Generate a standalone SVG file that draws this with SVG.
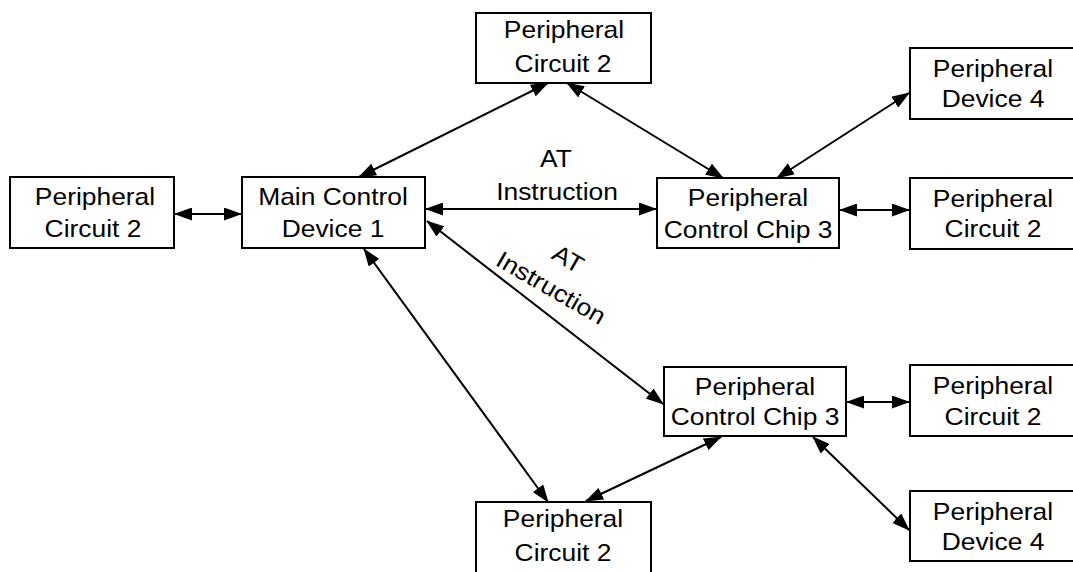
<svg xmlns="http://www.w3.org/2000/svg" width="1073" height="572" viewBox="0 0 1073 572">
<style>
.box{fill:#fff;stroke:#000;stroke-width:2}
.t{font-family:"Liberation Sans",Arial,sans-serif;font-size:24px;fill:#000;text-anchor:middle}
.c{stroke:#000;stroke-width:2;fill:none;marker-start:url(#ah);marker-end:url(#ah)}
</style>
<defs>
<marker id="ah" markerUnits="userSpaceOnUse" markerWidth="18" markerHeight="13" refX="17" refY="6.5" orient="auto-start-reverse" viewBox="0 0 18 13">
<path d="M0,0 L18,6.5 L0,13 z" fill="#000"/>
</marker>
</defs>
<rect width="1073" height="572" fill="#fff"/>
<g id="connectors">
<line class="c" x1="175" y1="214" x2="241" y2="214"/>
<line class="c" x1="426" y1="209" x2="656" y2="209"/>
<line class="c" x1="359" y1="177" x2="548" y2="83"/>
<line class="c" x1="567" y1="83" x2="723" y2="178"/>
<line class="c" x1="777" y1="178" x2="909" y2="93"/>
<line class="c" x1="840" y1="210" x2="909" y2="210"/>
<line class="c" x1="427" y1="221" x2="663" y2="404"/>
<line class="c" x1="364" y1="249" x2="548" y2="502"/>
<line class="c" x1="721" y1="437" x2="586" y2="501"/>
<line class="c" x1="847" y1="402" x2="909" y2="402"/>
<line class="c" x1="813" y1="437" x2="909" y2="530"/>
</g>
<g id="label-at-1">
<text class="t" transform="translate(556,167) scale(1.1,1)">AT</text>
<text class="t" transform="translate(557,200) scale(1.1,1)">Instruction</text>
</g>
<g id="label-at-2">
<text class="t" transform="translate(564,266) rotate(30) scale(1.1,1)">AT</text>
<text class="t" transform="translate(547,295) rotate(30) scale(1.1,1)">Instruction</text>
</g>
<g id="n-left-circuit">
<rect class="box" x="10" y="177" width="164" height="71"/>
<text class="t" transform="translate(95,205) scale(1.1,1)">Peripheral</text>
<text class="t" transform="translate(93,237) scale(1.1,1)">Circuit 2</text>
</g>
<g id="n-main">
<rect class="box" x="242" y="177" width="183" height="71"/>
<text class="t" transform="translate(333,205) scale(1.1,1)">Main Control</text>
<text class="t" transform="translate(333,237) scale(1.1,1)">Device 1</text>
</g>
<g id="n-top-circuit">
<rect class="box" x="476" y="13" width="175" height="70"/>
<text class="t" transform="translate(564,38) scale(1.1,1)">Peripheral</text>
<text class="t" transform="translate(563,72) scale(1.1,1)">Circuit 2</text>
</g>
<g id="n-chip-upper">
<rect class="box" x="657" y="178" width="182" height="70"/>
<text class="t" transform="translate(748,206) scale(1.1,1)">Peripheral</text>
<text class="t" transform="translate(748,238) scale(1.1,1)">Control Chip 3</text>
</g>
<g id="n-device-upper">
<rect class="box" x="910" y="48" width="170" height="71"/>
<text class="t" transform="translate(993,77) scale(1.1,1)">Peripheral</text>
<text class="t" transform="translate(993,107) scale(1.1,1)">Device 4</text>
</g>
<g id="n-circuit-upper-right">
<rect class="box" x="910" y="178" width="170" height="71"/>
<text class="t" transform="translate(993,207) scale(1.1,1)">Peripheral</text>
<text class="t" transform="translate(993,237) scale(1.1,1)">Circuit 2</text>
</g>
<g id="n-chip-lower">
<rect class="box" x="664" y="367" width="182" height="69"/>
<text class="t" transform="translate(755,395) scale(1.1,1)">Peripheral</text>
<text class="t" transform="translate(755,425) scale(1.1,1)">Control Chip 3</text>
</g>
<g id="n-circuit-lower-right">
<rect class="box" x="910" y="365" width="170" height="71"/>
<text class="t" transform="translate(993,394) scale(1.1,1)">Peripheral</text>
<text class="t" transform="translate(993,425) scale(1.1,1)">Circuit 2</text>
</g>
<g id="n-device-lower">
<rect class="box" x="910" y="491" width="170" height="70"/>
<text class="t" transform="translate(993,520) scale(1.1,1)">Peripheral</text>
<text class="t" transform="translate(993,550) scale(1.1,1)">Device 4</text>
</g>
<g id="n-bottom-circuit">
<rect class="box" x="476" y="502" width="175" height="80"/>
<text class="t" transform="translate(563,527) scale(1.1,1)">Peripheral</text>
<text class="t" transform="translate(563,561) scale(1.1,1)">Circuit 2</text>
</g>
</svg>
